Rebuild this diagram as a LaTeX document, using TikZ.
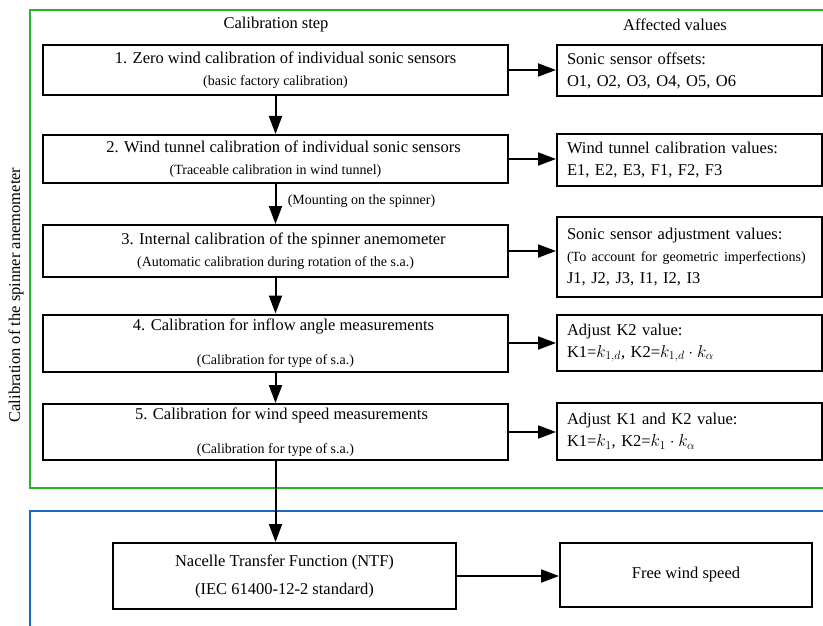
\documentclass[tikz,border=0pt]{standalone}
\usepackage{fontspec}
\setmainfont{Liberation Serif}
\usetikzlibrary{arrows.meta}
\definecolor{framegreen}{RGB}{40,180,40}
\definecolor{frameblue}{RGB}{25,105,190}
\newcommand{\subtxt}{\fontsize{14}{22}\selectfont}

\begin{document}
\begin{tikzpicture}[x=1pt, y=-1pt,
	stepbox/.style={draw, line width=2pt, minimum width=465pt, inner sep=0pt, align=center, font=\fontsize{16.5}{22}\selectfont},
	valbox/.style={draw, line width=2pt, text width=245pt, inner xsep=10pt, inner ysep=0pt, align=left, font=\fontsize{16.5}{22}\selectfont},
	flow/.style={line width=2pt, -{Triangle[length=18pt, width=13pt]}}]
			%%%%% START %%%%%
			\useasboundingbox (0, 0) rectangle (823, 626);
			
			% frames
			\draw[line width=2pt, color=framegreen] (823, 10) -- (30, 10) -- (30, 488) -- (823, 488);
			\draw[line width=2pt, color=frameblue] (823, 511) -- (30, 511) -- (30, 626);
			\node[rotate=90, font=\fontsize{16.5}{20}\selectfont] (sidelabel) at (16, 295) {Calibration of the spinner anemometer};
			
			% headers
			\node[font=\fontsize{16.5}{20}\selectfont] (stephead) at (276, 25) {Calibration step};
			\node[font=\fontsize{16.5}{20}\selectfont] (valhead) at (675, 25) {Affected values};
			
			% calibration steps
			\node[stepbox, minimum height=50pt] (step1) at (275.5, 70) {\hspace*{20pt}1. Zero wind calibration of individual sonic sensors\\{\subtxt (basic factory calibration)}};
			\node[stepbox, minimum height=48pt] (step2) at (275.5, 159) {\hspace*{16pt}2. Wind tunnel calibration of individual sonic sensors\\{\subtxt (Traceable calibration in wind tunnel)}};
			\node[stepbox, minimum height=52pt] (step3) at (275.5, 251) {\hspace*{16pt}3. Internal calibration of the spinner anemometer\\{\subtxt (Automatic calibration during rotation of the s.a.)}};
			\node[stepbox, minimum height=57pt] (step4) at (275.5, 343) {\hspace*{16pt}4. Calibration for inflow angle measurements\\[12pt]{\subtxt (Calibration for type of s.a.)}};
			\node[stepbox, minimum height=56pt] (step5) at (275.5, 432) {\hspace*{12pt}5. Calibration for wind speed measurements\\[12pt]{\subtxt (Calibration for type of s.a.)}};
			
			% affected values
			\node[valbox, minimum height=51pt] (val1) at (689.5, 70.5) {Sonic sensor offsets:\\O1, O2, O3, O4, O5, O6};
			\node[valbox, minimum height=51pt] (val2) at (689.5, 160) {Wind tunnel calibration values:\\E1, E2, E3, F1, F2, F3};
			\node[valbox, minimum height=80pt] (val3) at (689.5, 257) {Sonic sensor adjustment values:\\{\subtxt (To account for geometric imperfections)}\\J1, J2, J3, I1, I2, I3};
			\node[valbox, minimum height=56pt] (val4) at (689.5, 343) {Adjust K2 value:\\K1=$k_{1,d}$, K2=$k_{1,d}\cdot k_\alpha$};
			\node[valbox, minimum height=57pt] (val5) at (689.5, 431.5) {Adjust K1 and K2 value:\\K1=$k_{1}$, K2=$k_{1}\cdot k_\alpha$};
			
			% nacelle part
			\node[stepbox, minimum width=343pt, minimum height=66pt] (ntf) at (284.5, 576) {Nacelle Transfer Function (NTF)\\[6pt](IEC 61400-12-2 standard)};
			\node[stepbox, minimum width=252pt, minimum height=64pt] (free) at (686, 575) {Free wind speed};
			
			% connectors
			\draw[flow] (step1) -- (step2);
			\draw[flow] (step2) -- node[right=8pt, pos=0.42, font=\subtxt] (mountlabel) {(Mounting on the spinner)} (step3);
			\draw[flow] (step3) -- (step4);
			\draw[flow] (step4) -- (step5);
			\draw[flow] (step5.south) -- (step5.south |- ntf.north);
			
			\draw[flow] (step1.east) -- (step1.east -| val1.west);
			\draw[flow] (step2.east) -- (step2.east -| val2.west);
			\draw[flow] (step3.east) -- (step3.east -| val3.west);
			\draw[flow] (step4.east) -- (step4.east -| val4.west);
			\draw[flow] (step5.east) -- (step5.east -| val5.west);
			\draw[flow] (ntf.east) -- (ntf.east -| free.west);
			
			%%%%% END %%%%%
\end{tikzpicture}
\end{document}
